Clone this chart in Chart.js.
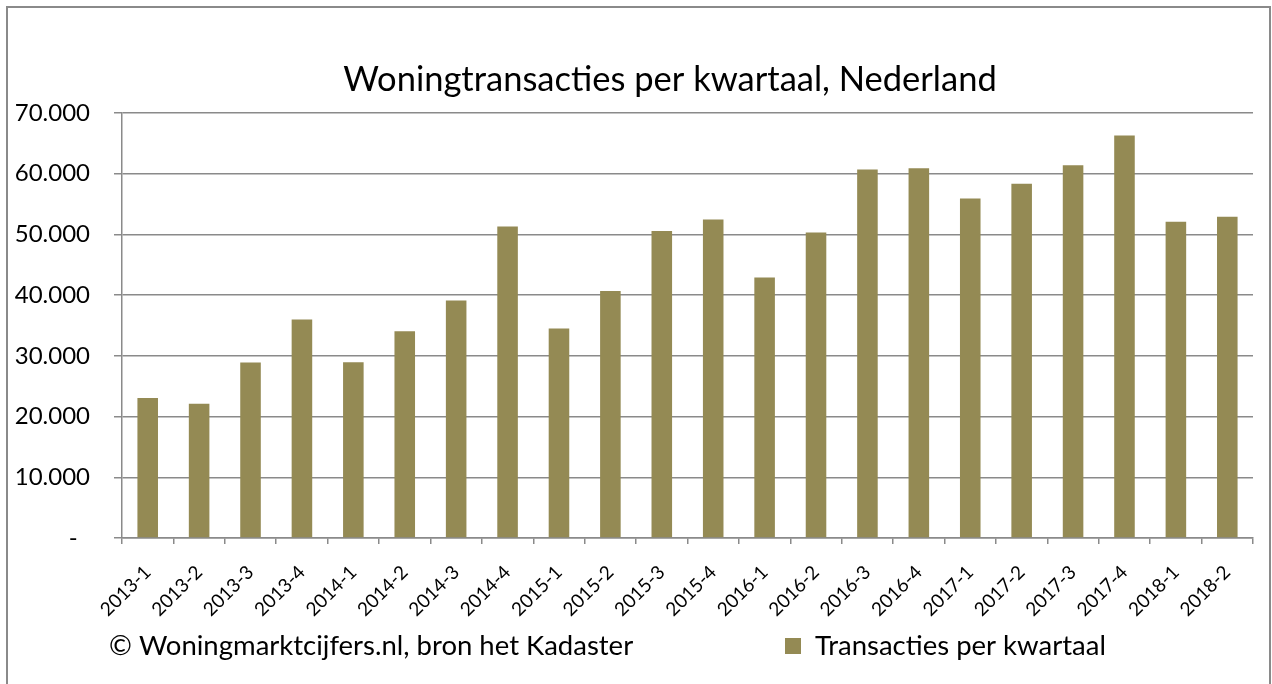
<!DOCTYPE html>
<html>
<head>
<meta charset="utf-8">
<title>Woningtransacties per kwartaal</title>
<script src="https://cdn.jsdelivr.net/npm/chart.js@4/dist/chart.umd.min.js"></script>
<style>
  html, body { margin: 0; padding: 0; background: #fff; }
  #wrap { width: 1272px; height: 684px; position: relative; }
</style>
</head>
<body>
<div id="wrap"><canvas id="chart" width="1272" height="684"></canvas></div>
<script>
// quarters and number of transactions
const quarters = [
  '2013-1', '2013-2', '2013-3', '2013-4',
  '2014-1', '2014-2', '2014-3', '2014-4',
  '2015-1', '2015-2', '2015-3', '2015-4',
  '2016-1', '2016-2', '2016-3', '2016-4',
  '2017-1', '2017-2', '2017-3', '2017-4',
  '2018-1', '2018-2'
];
const transactions = [
  23050, 22100, 28900, 36000,
  28950, 34050, 39100, 51300,
  34500, 40700, 50550, 52450,
  42900, 50300, 60700, 60900,
  55900, 58350, 61400, 66300,
  52100, 52900
];
const yTicks = [0, 10000, 20000, 30000, 40000, 50000, 60000, 70000];

const titleText = 'Woningtransacties per kwartaal, Nederland';
const seriesLabel = 'Transacties per kwartaal';
const sourceText = '\u00A9 Woningmarktcijfers.nl, bron het Kadaster';
const barColor = '#948a54';
const gridColor = '#8a8a8a';
const fontFamily = 'Lato, "Open Sans", sans-serif';

function dutchNumber(v) {
  if (v === 0) return '-  ';
  return String(v).replace(/\B(?=(\d{3})+(?!\d))/g, '.');
}

// outer frame, title, source line and legend
const frameAndText = {
  id: 'frameAndText',
  afterDraw(chart) {
    const ctx = chart.ctx;
    ctx.save();
    ctx.strokeStyle = gridColor;
    ctx.lineWidth = 2;
    ctx.strokeRect(7, 7, 1263, 700);

    ctx.fillStyle = '#000';
    ctx.textBaseline = 'alphabetic';
    ctx.textAlign = 'center';
    ctx.font = '34.5px ' + fontFamily;
    ctx.fillText(titleText, 670, 91);

    ctx.textAlign = 'left';
    ctx.textBaseline = 'middle';
    ctx.font = '27.5px ' + fontFamily;
    ctx.fillText(sourceText, 109, 646);

    const ds = chart.data.datasets[0];
    ctx.fillStyle = ds.backgroundColor;
    ctx.fillRect(785, 638, 16, 16);
    ctx.fillStyle = '#000';
    ctx.fillText(ds.label, 815, 646);
    ctx.restore();
  }
};

new Chart(document.getElementById('chart'), {
  type: 'bar',
  data: {
    labels: quarters,
    datasets: [{
      label: seriesLabel,
      data: transactions,
      backgroundColor: barColor,
      categoryPercentage: 0.4,
      barPercentage: 1.0
    }]
  },
  options: {
    responsive: false,
    animation: false,
    layout: { padding: { left: 0, right: 19, top: 113, bottom: 0 } },
    plugins: {
      legend: { display: false },
      tooltip: { enabled: false },
      title: { display: false }
    },
    scales: {
      x: {
        grid: {
          offset: true,
          drawOnChartArea: false,
          drawTicks: true,
          tickLength: 6,
          color: gridColor,
          lineWidth: 1.5
        },
        border: { color: gridColor, width: 1.5 },
        ticks: {
          color: '#000',
          font: { family: fontFamily, size: 19 },
          minRotation: 45,
          maxRotation: 45,
          autoSkip: false,
          padding: 17
        },
        afterFit(scale) { scale.height = 146; }
      },
      y: {
        min: 0,
        max: 70000,
        afterBuildTicks(scale) { scale.ticks = yTicks.map(v => ({ value: v })); },
        grid: {
          color: gridColor,
          lineWidth: 1.5,
          tickLength: 8
        },
        border: { color: gridColor, width: 1.5 },
        ticks: {
          color: '#000',
          font: { family: fontFamily, size: 24 },
          padding: 24,
          callback: v => dutchNumber(v)
        },
        afterFit(scale) { scale.width = 122; }
      }
    }
  },
  plugins: [frameAndText]
});
</script>
</body>
</html>
